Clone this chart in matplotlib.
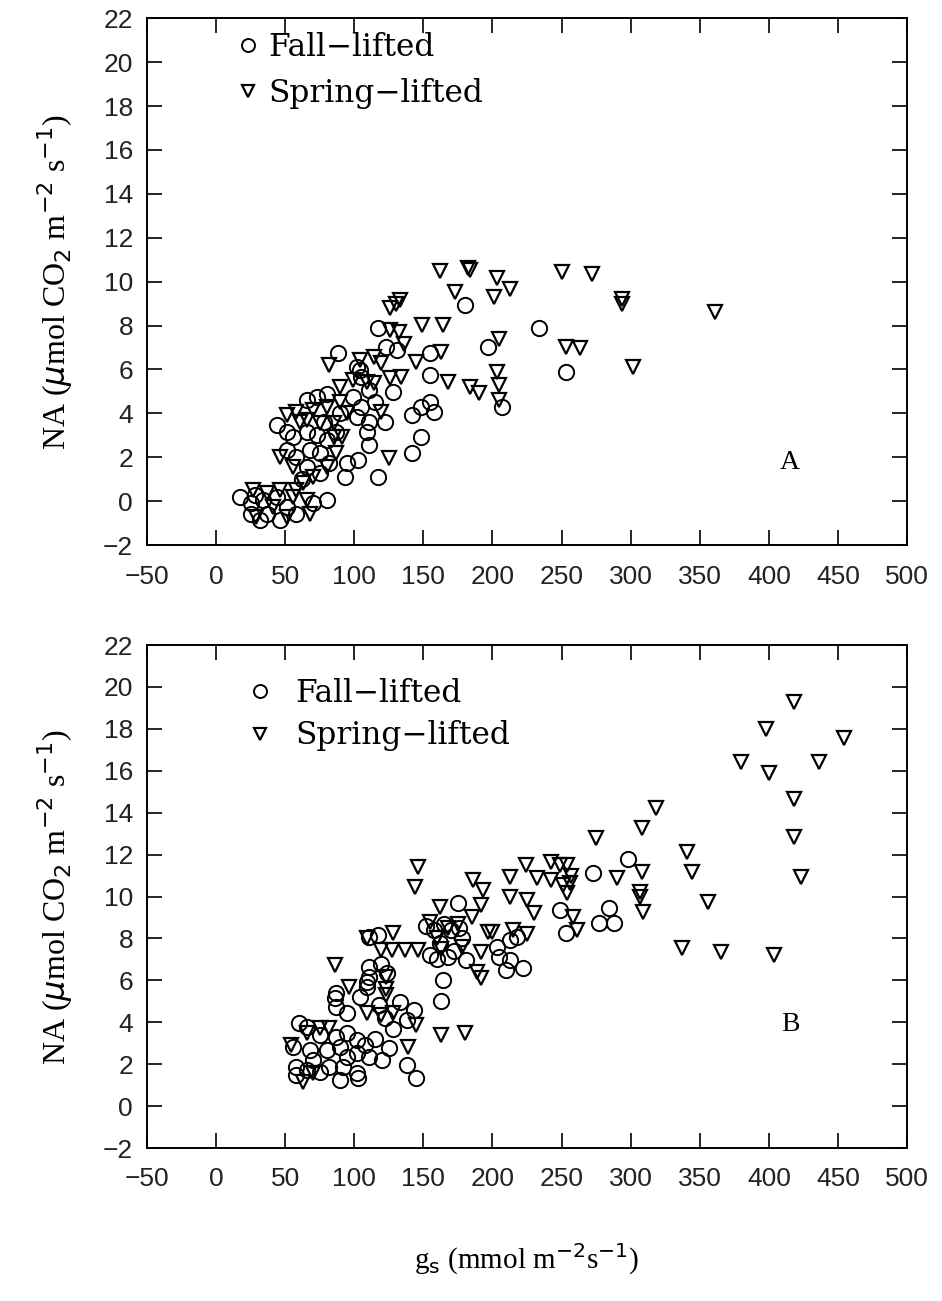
import numpy as np
import matplotlib
matplotlib.use("Agg")
import matplotlib.pyplot as plt

# Panel A - fall-lifted (circles)
fall_a_gs = [180, 117, 197, 234, 88, 123, 131, 104, 155, 155, 128, 207, 148, 155, 158, 142,
             148, 142, 117, 93, 111, 103, 122, 80, 73, 66, 102, 105, 111, 115, 99, 105, 102,
             111, 109, 44, 51, 56, 66, 73, 80, 87, 51, 58, 68, 75, 82, 66, 75, 95, 17, 25, 34,
             44, 51, 58, 37, 25, 80, 70, 46, 32, 253, 28, 62, 78, 90]
fall_a_na = [8.93, 7.87, 7.03, 7.87, 6.73, 7.03, 6.88, 5.97, 6.73, 5.74, 4.98, 4.30, 4.30, 4.53,
             4.07, 3.92, 2.93, 2.18, 1.11, 1.11, 2.56, 1.87, 3.62, 4.90, 4.76, 4.60, 6.12, 5.67,
             5.06, 4.53, 4.76, 4.30, 3.85, 3.62, 3.16, 3.47, 3.16, 2.93, 3.16, 3.01, 2.78, 3.16,
             2.33, 2.02, 2.33, 2.18, 1.72, 1.57, 1.27, 1.72, 0.20, -0.10, 0.05, 0.20, -0.26,
             -0.56, -0.56, -0.56, 0.05, -0.10, -0.86, -0.86, 5.90, 0.30, 1.00, 3.60, 4.00]

# Panel A - spring-lifted (triangles)
spring_a_gs = [182, 184, 162, 203, 213, 173, 201, 130, 126, 133, 149, 164, 126, 132, 205, 82, 136,
               104, 114, 119, 163, 145, 168, 134, 126, 184, 190, 203, 205, 205, 119, 90, 99, 109,
               114, 90, 95, 85, 91, 80, 70, 58, 66, 51, 61, 75, 85, 46, 56, 70, 80, 87, 63, 125,
               27, 37, 46, 56, 66, 41, 29, 51, 58, 68, 250, 272, 294, 294, 361, 253, 263, 302]
spring_a_na = [10.60, 10.55, 10.50, 10.15, 9.66, 9.54, 9.31, 9.00, 8.78, 9.16, 8.02, 8.02, 7.80,
               7.72, 7.41, 6.20, 7.18, 6.43, 6.58, 6.28, 6.80, 6.35, 5.44, 5.67, 5.59, 5.21, 4.91,
               5.89, 5.29, 4.60, 4.07, 5.21, 5.52, 5.44, 5.37, 4.53, 4.00, 3.54, 2.93, 4.30, 4.15,
               4.07, 3.70, 3.92, 3.62, 3.54, 2.93, 2.02, 1.57, 1.11, 1.57, 2.18, 0.81, 1.95, 0.50,
               0.36, 0.50, 0.20, 0.05, -0.26, -0.71, -0.71, 0.50, -0.56, 10.45, 10.34, 9.00, 9.20,
               8.63, 7.03, 6.96, 6.12]

# Panel B - fall-lifted (circles)
fall_b_gs = [175, 298, 273, 284, 277, 288, 253, 249, 117, 111, 152, 158, 165, 170, 176, 155, 160,
             168, 172, 162, 178, 181, 164, 163, 203, 213, 218, 205, 213, 210, 222, 111, 119, 124,
             109, 111, 87, 109, 104, 86, 87, 95, 60, 66, 133, 143, 138, 128, 125, 138, 145, 87,
             95, 102, 56, 68, 80, 90, 95, 102, 111, 58, 66, 75, 58, 82, 92, 102, 90, 103, 118,
             122, 115, 108, 120, 75, 70]
fall_b_na = [9.68, 11.78, 11.10, 9.44, 8.72, 8.72, 8.25, 9.36, 8.16, 8.08, 8.60, 8.40, 8.70, 8.40,
             8.50, 7.20, 7.00, 7.10, 7.40, 7.80, 8.00, 6.97, 6.00, 5.00, 7.60, 7.93, 8.08, 7.13,
             6.97, 6.50, 6.57, 6.65, 6.80, 6.33, 5.94, 6.18, 5.38, 5.70, 5.20, 5.15, 4.75, 4.43,
             3.95, 3.79, 4.98, 4.59, 4.10, 3.70, 2.76, 1.96, 1.33, 3.30, 3.47, 3.15, 2.83, 2.68,
             2.68, 2.83, 2.36, 2.52, 2.36, 1.88, 1.72, 1.64, 1.48, 1.88, 1.88, 1.56, 1.25, 1.33,
             4.80, 4.20, 3.20, 2.90, 2.20, 3.40, 2.20]

# Panel B - spring-lifted (triangles)
spring_b_gs = [418, 398, 454, 380, 436, 400, 418, 418, 423, 341, 344, 356, 337, 365, 404, 275, 308,
               318, 308, 307, 307, 309, 290, 258, 261, 254, 257, 256, 254, 146, 144, 186, 193, 213,
               224, 232, 242, 249, 213, 225, 230, 192, 185, 162, 242, 251, 128, 109, 119, 127, 137,
               146, 192, 189, 192, 86, 96, 163, 180, 145, 139, 123, 123, 123, 109, 119, 128, 66,
               75, 82, 63, 70, 54, 155, 160, 168, 175, 163, 178, 200, 215, 225, 197]
spring_b_na = [19.30, 18.00, 17.55, 16.43, 16.43, 15.88, 14.64, 12.83, 10.95, 12.14, 11.18, 9.75,
               7.53, 7.37, 7.21, 12.78, 13.26, 14.20, 11.18, 9.99, 10.20, 9.28, 10.87, 9.00, 8.40,
               11.50, 11.00, 10.65, 10.15, 11.42, 10.47, 10.80, 10.31, 10.95, 11.50, 10.87, 11.66,
               11.50, 9.99, 9.83, 9.20, 9.60, 9.04, 9.52, 10.80, 10.55, 8.24, 8.00, 7.45, 7.45,
               7.45, 7.45, 7.37, 6.41, 6.10, 6.73, 5.70, 3.39, 3.47, 3.87, 2.83, 6.18, 5.60, 5.30,
               4.43, 4.35, 4.43, 3.47, 3.71, 3.71, 1.17, 1.56, 2.90, 8.80, 8.00, 8.50, 8.70, 7.50,
               7.60, 8.30, 8.40, 8.20, 8.30]

x_ticks = list(range(-50, 501, 50))
y_ticks = list(range(-2, 23, 2))
labels = ["Fall\u2212lifted", "Spring\u2212lifted"]

serif = "Liberation Serif"
legend_font = "DejaVu Serif"
sans = "Liberation Sans"

fig = plt.figure(figsize=(9.42, 13.01), dpi=100)
ax_a = fig.add_axes([0.156, 0.581, 0.807, 0.405])
ax_b = fig.add_axes([0.156, 0.1176, 0.807, 0.3866])

# axes, data, panel tag, tag position, legend anchor, legend spacing, handle-text gap
panels = [
    (ax_a, fall_a_gs, fall_a_na, spring_a_gs, spring_a_na, "A", (0.846, 0.156),
     (0.079, 1.027), 0.48, 0.25),
    (ax_b, fall_b_gs, fall_b_na, spring_b_gs, spring_b_na, "B", (0.846, 0.245),
     (0.095, 0.990), 0.36, 0.75),
]

for ax, fx, fy, sx, sy, tag, tag_pos, leg_pos, lspace, tpad in panels:
    ax.plot(fx, fy, "o", ms=11, mfc="none", mec="black", mew=1.4, ls="none", label=labels[0])
    ax.plot(sx, sy, "v", ms=10, mfc="none", mec="black", mew=1.6, ls="none", label=labels[1])
    ax.set_xlim(-50, 500)
    ax.set_ylim(-2, 22)
    ax.set_xticks(x_ticks)
    ax.set_yticks(y_ticks)
    ax.tick_params(direction="in", length=11, width=1.2, top=True, right=True,
                   labelsize=19)
    ax.tick_params(axis="x", pad=14)
    ax.tick_params(axis="y", pad=10)
    for lab in ax.get_xticklabels() + ax.get_yticklabels():
        lab.set_family(sans)
        lab.set_color("#222222")
    for sp in ax.spines.values():
        sp.set_linewidth(1.4)
    ax.set_ylabel(r"NA ($\mu$mol CO$_2$ m$^{-2}$ s$^{-1}$)", family=serif, fontsize=23,
                  labelpad=20)
    ax.text(tag_pos[0], tag_pos[1], tag, transform=ax.transAxes, family=serif, fontsize=20,
            ha="center", va="center")
    ax.legend(loc="upper left", bbox_to_anchor=leg_pos, frameon=False,
              prop={"family": legend_font, "size": 22.5}, handlelength=0.8,
              handletextpad=tpad, labelspacing=lspace, markerscale=0.85)

ax_b.set_xlabel(r"g$_\mathrm{s}$ (mmol m$^{-2}$s$^{-1}$)", family=serif, fontsize=21,
                labelpad=36)

fig.savefig("out.png", dpi=100, facecolor="white")
